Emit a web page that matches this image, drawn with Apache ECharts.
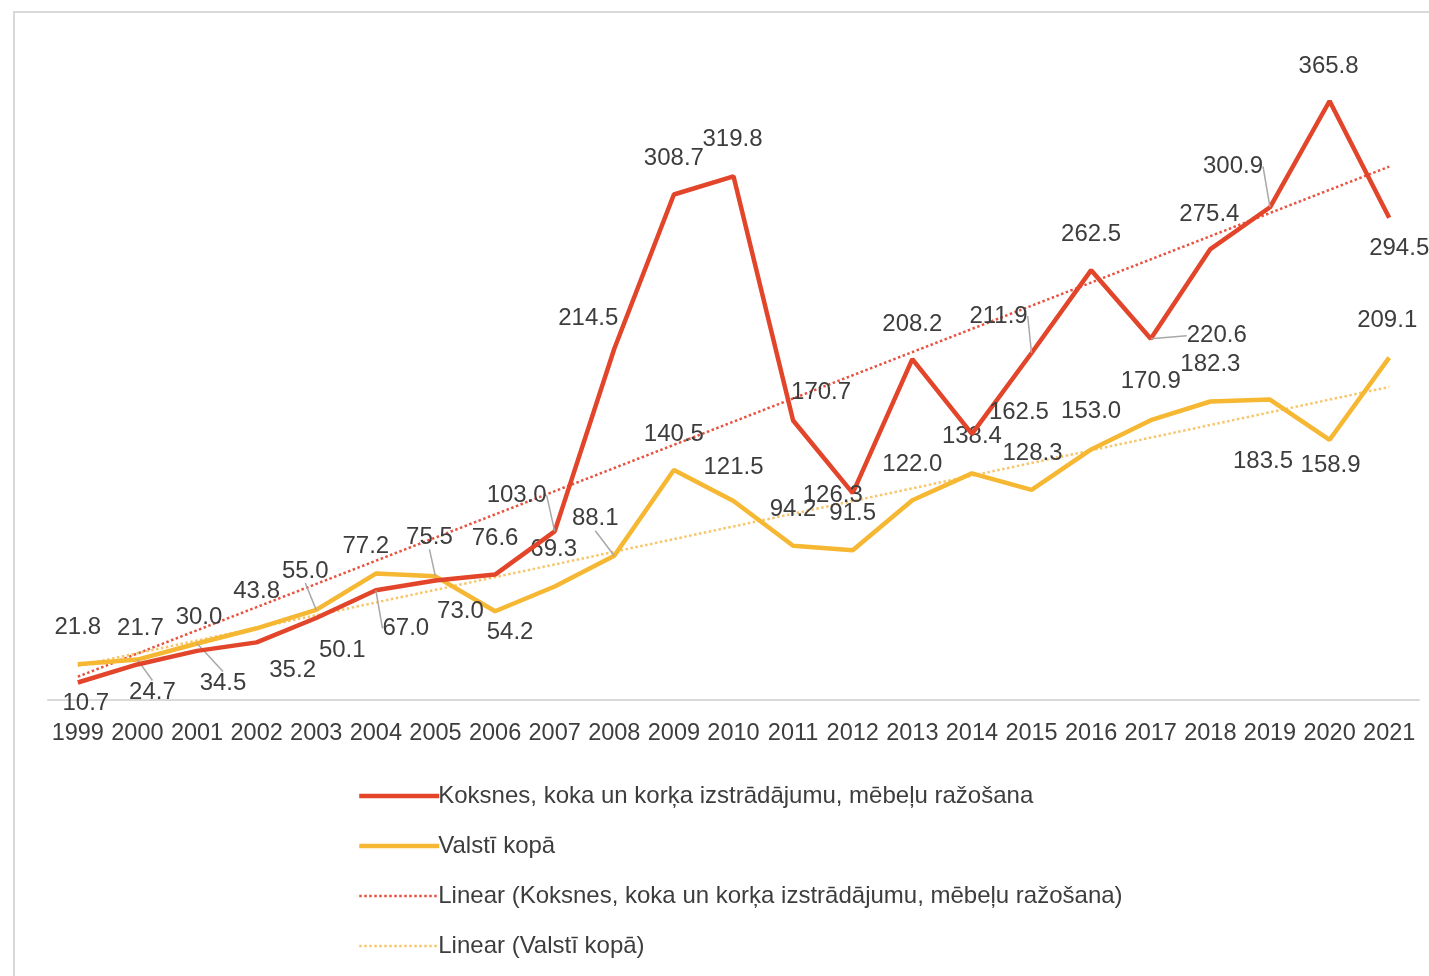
<!DOCTYPE html>
<html><head><meta charset="utf-8">
<script src="https://cdn.jsdelivr.net/npm/echarts@6/dist/echarts.min.js"></script>
<style>html,body{margin:0;padding:0;background:#fff}#c{width:1429px;height:976px}</style>
</head><body><div id="c"></div>
<script>
const years = ['1999','2000','2001','2002','2003','2004','2005','2006','2007','2008','2009','2010','2011','2012','2013','2014','2015','2016','2017','2018','2019','2020','2021'];
const koksnes = [10.7,21.7,30.0,35.2,50.1,67.0,73.0,76.6,103.0,214.5,308.7,319.8,170.7,126.3,208.2,162.5,211.9,262.5,220.6,275.4,300.9,365.8,294.5];
const valsti = [21.8,24.7,34.5,43.8,55.0,77.2,75.5,54.2,69.3,88.1,140.5,121.5,94.2,91.5,122.0,138.4,128.3,153.0,170.9,182.3,183.5,158.9,209.1];
const names = ['Koksnes, koka un korķa izstrādājumu, mēbeļu ražošana','Valstī kopā','Linear (Koksnes, koka un korķa izstrādājumu, mēbeļu ražošana)','Linear (Valstī kopā)'];

// label placement (style only)
const redOff = [[8,21],[3,-36],[2,-34],[36,28],[26,32],[30,38],[25,31],[0,-36],[-38,-36],[-26,-30],[0,-36],[-1,-37],[28,-28],[-20,2],[0,-35],[47,-22],[-33,-37],[0,-36],[66,-3],[-1,-35],[-37,-41],[-1,-35],[10,31]];
const yelOff = [[0,-37],[15,33],[26,40],[0,-37],[-11,-39],[-10,-27],[-6,-39],[15,21],[-1,-37],[-19,-37],[0,-36],[0,-34],[0,-36],[0,-37],[0,-36],[0,-37],[1,-37],[0,-38],[0,-39],[0,-37],[-7,62],[1,26],[-2,-37]];
const redLeader = [5,8,16,18,20];
const yelLeader = [1,2,4,6,9];

function trend(vals){
  const n = vals.length; let sx=0, sy=0, sxy=0, sxx=0;
  vals.forEach((v,i)=>{sx+=i;sy+=v;sxy+=i*v;sxx+=i*i;});
  const b=(n*sxy-sx*sy)/(n*sxx-sx*sx), a=(sy-b*sx)/n;
  return vals.map((v,i)=>+(a+b*i).toFixed(2));
}
const FONT = 'Liberation Sans';
const lbl = {show:true, position:'inside', color:'#3d3d3d', fontFamily:FONT, fontSize:24, formatter:p=>p.value.toFixed(1)};
function mk(vals, leaders){ return vals.map((v,i)=>({value:v, labelLine:{show:leaders.includes(i)}})); }
function lay(offs){ return p => ({dx:offs[p.dataIndex][0], dy:offs[p.dataIndex][1]}); }
const leaderStyle = {show:false, lineStyle:{color:'#a8a8a8', width:1.5}};

const chart = echarts.init(document.getElementById('c'));
chart.setOption({
  animation:false,
  backgroundColor:'#fff',
  graphic:[{type:'rect', shape:{x:14,y:12,width:1430,height:980}, style:{fill:'none', stroke:'#d9d9d9', lineWidth:2}, silent:true}],
  grid:{left:48,right:10,top:45,bottom:276},
  xAxis:{type:'category', data:years, boundaryGap:true,
    axisLine:{lineStyle:{color:'#d9d9d9',width:2}}, axisTick:{show:false},
    axisLabel:{color:'#3d3d3d', fontFamily:FONT, fontSize:23.5, margin:22, interval:0}},
  yAxis:{type:'value', min:0, max:400, show:false, splitLine:{show:false}},
  legend:{orient:'vertical', left:352, top:779, itemWidth:80, itemHeight:14, itemGap:26,
    textStyle:{color:'#3d3d3d', fontFamily:FONT, fontSize:24, lineHeight:24, padding:[0,0,0,-6]},
    data:[
      {name:names[0], itemStyle:{opacity:0}, lineStyle:{width:4.5}},
      {name:names[1], itemStyle:{opacity:0}, lineStyle:{width:4.5}},
      {name:names[2], itemStyle:{opacity:0}, lineStyle:{width:2.5}},
      {name:names[3], itemStyle:{opacity:0}, lineStyle:{width:2.5}}
    ]},
  series:[
    {name:names[2], type:'line', data:trend(koksnes), symbol:'none', z:1,
      lineStyle:{color:'#e8533f', width:2.5, type:'dotted'}},
    {name:names[3], type:'line', data:trend(valsti), symbol:'none', z:1,
      lineStyle:{color:'#f7c66a', width:2.5, type:'dotted'}},
    {name:names[1], type:'line', data:mk(valsti,yelLeader), symbol:'circle', symbolSize:0.1, z:3,
      lineStyle:{color:'#f6b732', width:4.5}, itemStyle:{color:'#f6b732'}, label:lbl,
      labelLayout:lay(yelOff), labelLine:leaderStyle},
    {name:names[0], type:'line', data:mk(koksnes,redLeader), symbol:'circle', symbolSize:0.1, z:4,
      lineStyle:{color:'#e2452a', width:4.5}, itemStyle:{color:'#e2452a'}, label:lbl,
      labelLayout:lay(redOff), labelLine:leaderStyle}
  ]
});
</script></body></html>
